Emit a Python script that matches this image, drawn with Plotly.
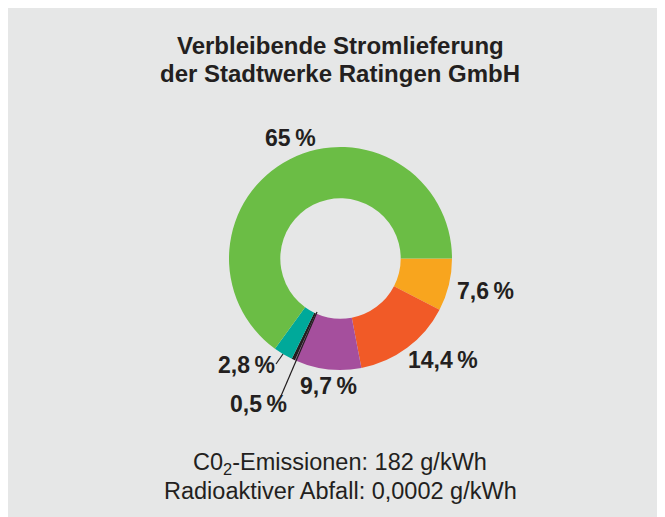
import plotly.graph_objects as go

# ---- data ----
categories = ["Anteil A", "Anteil B", "Anteil C", "Anteil D", "Anteil E", "Anteil F"]
values = [7.6, 14.4, 9.7, 0.5, 2.8, 65.0]
value_labels = ["7,6", "14,4", "9,7", "0,5", "2,8", "65"]
colors = ["#f8a51e", "#f15a27", "#a54f9d", "#231f20", "#00a99a", "#6bbd45"]
title_lines = ["Verbleibende Stromlieferung", "der Stadtwerke Ratingen GmbH"]
footer_lines = ["C0<sub>2</sub>-Emissionen: 182 g/kWh", "Radioaktiver Abfall: 0,0002 g/kWh"]

W, H = 665, 517
OFF = 8  # page body margin: figure starts at screen (8, 8)
BG = "#e6e7e7"
TXT = "#231f20"
FONT = "Liberation Sans, Arial, sans-serif"

def px(x):
    return (x - OFF) / W

def py(y):
    return 1 - (y - OFF) / H

fig = go.Figure()
fig.add_trace(go.Pie(
    labels=categories,
    values=values,
    sort=False,
    direction="clockwise",
    rotation=90,
    hole=0.54,
    marker=dict(colors=colors, line=dict(width=0)),
    textinfo="none",
    hoverinfo="label+percent",
    showlegend=False,
    domain=dict(x=[px(229), px(452)], y=[py(370), py(147)]),
))

# label positions (screen pixels) for each slice, in the same order as values
label_pos = [(485, 291), (443, 360), (328, 386), (258, 404), (246, 365), (290, 138)]

annotations = []
for lab, (x, y) in zip(value_labels, label_pos):
    annotations.append(dict(
        x=px(x), y=py(y), xref="paper", yref="paper",
        text=f"<b>{lab}\u2009%</b>", showarrow=False,
        font=dict(family=FONT, size=23, color=TXT),
        xanchor="center", yanchor="middle",
    ))

for i, t in enumerate(title_lines):
    annotations.append(dict(
        x=px(340), y=py(46 + 27 * i), xref="paper", yref="paper",
        text=f"<b>{t}</b>", showarrow=False,
        font=dict(family=FONT, size=24, color=TXT),
        xanchor="center", yanchor="middle",
    ))

for i, t in enumerate(footer_lines):
    annotations.append(dict(
        x=px(340), y=py(463 + 28 * i), xref="paper", yref="paper",
        text=t, showarrow=False,
        font=dict(family=FONT, size=23.5, color=TXT),
        xanchor="center", yanchor="middle",
    ))

shapes = [
    dict(type="line", xref="paper", yref="paper", x0=px(317), y0=py(312), x1=px(281), y1=py(396),
         line=dict(color=TXT, width=1.2)),
    dict(type="line", xref="paper", yref="paper", x0=px(283), y0=py(354), x1=px(276), y1=py(364),
         line=dict(color=TXT, width=1.2)),
]

fig.update_layout(
    width=W, height=H,
    margin=dict(l=0, r=0, t=0, b=0),
    paper_bgcolor=BG,
    plot_bgcolor=BG,
    annotations=annotations,
    shapes=shapes,
)

fig.write_html("out.html")
